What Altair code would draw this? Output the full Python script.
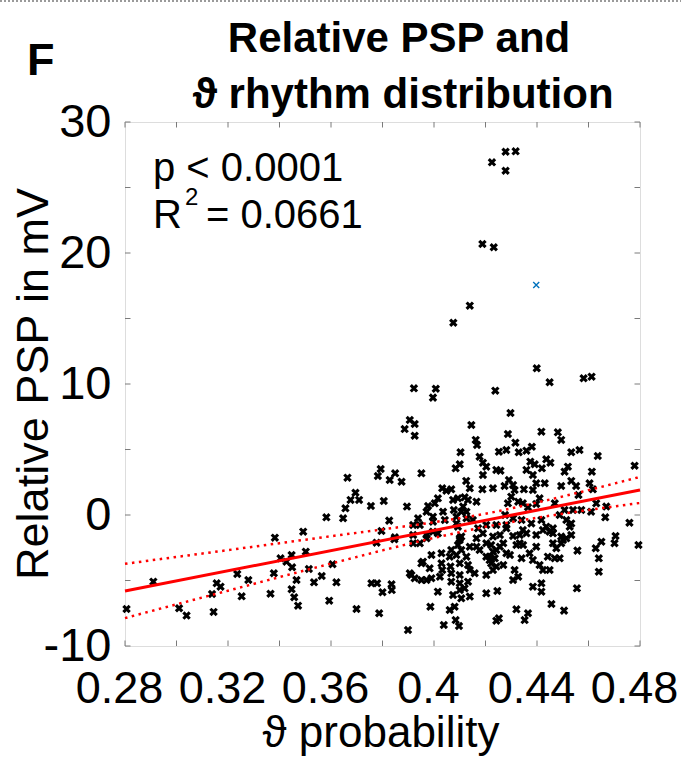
import altair as alt
import pandas as pd

# ---------------- data ----------------
pt_x = [
    0.4278, 0.4317, 0.4225, 0.4278, 0.4188, 0.4232, 0.4139, 0.4075, 0.4399, 0.4449,
    0.4581, 0.4612, 0.3922, 0.4007, 0.3996, 0.4238, 0.4297, 0.3906,
    0.3793, 0.3782, 0.3849, 0.3828, 0.3664, 0.3695, 0.3676, 0.3709, 0.3656, 0.3755,
    0.3805, 0.3582, 0.3647, 0.3826, 0.3492, 0.3382,
    0.2806, 0.2910, 0.3010, 0.3039, 0.3138, 0.3156, 0.3171, 0.3144, 0.3236, 0.3253,
    0.3279, 0.3365, 0.3378, 0.3404, 0.3447, 0.3449, 0.3427, 0.3502, 0.3514, 0.3466,
    0.3447, 0.3457, 0.3472, 0.3534, 0.3564, 0.3606, 0.3621, 0.3593, 0.3699, 0.3757,
    0.3779, 0.3800, 0.3787, 0.3835, 0.3836, 0.3777, 0.3846,
    0.3886, 0.3925, 0.3925, 0.4145, 0.4287, 0.4316, 0.4417, 0.4481, 0.4494, 0.4162,
    0.4167, 0.4103, 0.4252, 0.4281, 0.4329, 0.4359, 0.4380, 0.4533, 0.4565, 0.4636,
    0.4177, 0.4190, 0.4203, 0.4100, 0.4084, 0.4242, 0.4258, 0.4190, 0.4359, 0.4374,
    0.4391, 0.4419, 0.4436, 0.4452, 0.4384, 0.4507, 0.4520, 0.4613, 0.4779, 0.3951,
    0.3874, 0.4125, 0.4139, 0.4188, 0.4229, 0.4274, 0.4291, 0.4307, 0.4313, 0.4349,
    0.4384, 0.4397, 0.4494, 0.4533, 0.4552, 0.4561, 0.4604, 0.4617, 0.4032, 0.4048,
    0.4067, 0.4015, 0.4003, 0.4074, 0.4093, 0.4119, 0.4132, 0.4165, 0.4113, 0.4126,
    0.3977, 0.3971, 0.4035, 0.4077, 0.4287, 0.4345, 0.4365, 0.4410, 0.4397, 0.3895,
    0.3938, 0.3945, 0.3996, 0.4042, 0.4087, 0.4126, 0.4151, 0.4242, 0.4307, 0.4488,
    0.4514, 0.4527, 0.4572, 0.4610, 0.4630, 0.4669, 0.4665, 0.4759, 0.4705, 0.3796,
    0.3848, 0.3971, 0.4106, 0.4190, 0.4229, 0.4281, 0.4307, 0.4345, 0.4397, 0.4449,
    0.4494, 0.4533,
    0.3996, 0.4087, 0.4171, 0.3919, 0.3996, 0.4015, 0.4100, 0.4165, 0.4256, 0.4333,
    0.4359, 0.4423, 0.4462, 0.4501, 0.4533, 0.4701, 0.4650, 0.4628, 0.4794, 0.4557,
    0.4640, 0.4640, 0.4555, 0.3912, 0.3925, 0.3951, 0.3971, 0.3990, 0.3957, 0.3983,
    0.3990, 0.4029, 0.4029, 0.4032, 0.4064, 0.4067, 0.4067, 0.4100, 0.4087, 0.4106,
    0.4132, 0.4139, 0.4158, 0.4132, 0.4119, 0.4100, 0.4106, 0.4139, 0.4074, 0.4015,
    0.3986, 0.4061, 0.4080, 0.4038, 0.4084, 0.4097, 0.3899, 0.4203, 0.4246, 0.4203,
    0.4222, 0.4216, 0.4236, 0.4229, 0.4222, 0.4256, 0.4242, 0.4269, 0.4295, 0.4313,
    0.4307, 0.4327, 0.4340, 0.4320, 0.4346, 0.4371, 0.4384, 0.4397, 0.4410, 0.4423,
    0.4442, 0.4449, 0.4462, 0.4469, 0.4488, 0.4475, 0.4494, 0.4514, 0.4384, 0.4417,
    0.4417, 0.4456, 0.4505, 0.4320, 0.4365, 0.4352, 0.4242, 0.4252,
    0.3919, 0.3971, 0.3919, 0.3945, 0.3951, 0.4067, 0.4061, 0.4093, 0.4100, 0.4139,
    0.4126, 0.4100, 0.4165, 0.4177, 0.4203, 0.4242, 0.4269, 0.4216, 0.4229, 0.4100,
    0.4023, 0.3906, 0.4106, 0.4093, 0.4203, 0.4281, 0.4203, 0.4281,
    0.4430, 0.4300, 0.4327, 0.4469, 0.4507, 0.4540, 0.4276, 0.4340, 0.4378, 0.4417,
    0.4436, 0.4462, 0.4333,
]
pt_y = [
    27.73, 27.76, 26.92, 26.28, 20.69, 20.44, 15.98, 14.68, 11.20, 10.13,
    10.44, 10.56, 9.67, 9.64, 8.96, 9.49, 7.79, 7.25,
    3.51, 2.98, 3.18, 2.67, 2.85, 1.70, 1.15, 1.15, 0.51, 0.69,
    1.07, -0.18, -0.25, -0.43, -1.27, -1.73,
    -7.18, -5.09, -7.12, -7.68, -6.03, -5.21, -5.47, -7.40, -4.50, -6.21,
    -4.96, -6.01, -4.45, -3.31, -3.05, -3.99, -3.56, -2.80, -4.12, -4.96,
    -5.67, -6.28, -6.92, -5.14, -4.66, -3.76, -5.14, -6.54, -7.18, -5.21,
    -5.21, -5.90, -7.50, -5.29, -5.73, -2.11, -1.86,
    6.56, 6.95, 6.05, 6.87, 6.18, 5.52, 6.36, 6.31, 5.73, 5.73,
    5.34, 4.79, 4.83, 4.96, 4.79, 4.91, 5.21, 4.79, 4.96, 4.50,
    4.45, 3.99, 3.69, 3.87, 3.56, 3.44, 3.38, 3.05, 3.44, 4.07,
    3.87, 3.56, 4.25, 3.99, 3.05, 3.31, 3.69, 3.31, 3.76, 3.18,
    2.54, 2.60, 2.04, 1.96, 2.04, 2.21, 2.67, 2.29, 1.91, 1.96,
    1.91, 2.42, 2.21, 2.60, 2.21, 1.53, 2.42, 1.96, 2.04, 1.86,
    1.96, 1.27, 0.89, 1.15, 1.27, 1.35, 1.15, 1.02, 0.64, 0.25,
    0.69, 0.25, 0.25, 0.38, 0.89, 0.89, 0.59, 1.27, 0.84, 0.64,
    -0.25, -0.76, -0.13, -0.38, -0.13, -0.25, -0.38, -0.76, -0.25, 0.00,
    -0.38, -0.89, 0.38, 0.25, 0.89, 0.64, -0.18, -0.59, -1.60, -1.22,
    -1.70, -1.53, -1.65, -1.40, -1.65, -1.02, -1.60, -1.15, -1.53, -1.27,
    -1.65, -1.53,
    -0.51, -0.64, -1.02, -1.53, -1.27, -1.40, -1.91, -1.78, -1.53, -1.53,
    -1.40, -1.15, -1.40, -1.91, -0.64, -2.16, -2.04, -2.54, -2.29, -2.72,
    -3.31, -4.33, -5.60, -4.58, -4.83, -4.96, -4.96, -4.83, -3.56, -4.07,
    -3.05, -2.92, -3.69, -4.20, -3.94, -4.45, -5.09, -4.58, -3.05, -2.67,
    -3.82, -4.20, -4.45, -5.09, -5.60, -5.73, -6.36, -6.23, -6.11, -5.85,
    -7.00, -7.25, -7.00, -8.40, -8.02, -8.47, -8.78, -5.98, -5.80, -4.58,
    -3.69, -3.18, -3.31, -2.80, -2.29, -2.42, -3.94, -3.82, -3.05, -4.20,
    -4.96, -4.71, -3.31, -2.29, -2.29, -2.92, -3.44, -2.42, -3.82, -4.20,
    -3.18, -4.20, -2.16, -3.31, -3.31, -2.54, -2.16, -1.78, -5.47, -5.21,
    -5.85, -6.79, -7.30, -7.20, -7.50, -8.02, -8.07, -7.89,
    -0.76, -1.78, -2.16, -2.16, -3.69, -2.67, -3.18, -2.29, -1.78, -2.42,
    -3.18, -3.69, -2.42, -2.67, -2.16, -2.67, -2.16, -3.44, -4.20, -5.21,
    -4.71, -4.45, 0.25, -0.89, -0.76, -0.76, -3.18, -2.92,
    2.42, 1.40, 1.02, 0.89, 0.38, 0.38, 0.00, -0.38, -0.64, -0.38,
    -0.89, -1.02, -2.16,
]
blue_x = [0.4397]
blue_y = [17.56]

fit_x = [0.28, 0.48]
fit_y = [-5.80, 1.91]
ci_x = [0.28, 0.30, 0.32, 0.34, 0.36, 0.38, 0.40, 0.42, 0.44, 0.46, 0.48]
ci_up = [-3.73, -3.20, -2.68, -2.15, -1.62, -1.10, -0.55, 0.10, 0.95, 1.90, 2.91]
ci_lo = [-7.87, -6.82, -5.78, -4.74, -3.71, -2.70, -1.75, -0.90, -0.21, 0.38, 0.92]

x_tick_values = [0.28, 0.30, 0.32, 0.34, 0.36, 0.38, 0.40, 0.42, 0.44, 0.46, 0.48]
x_label_values = [0.28, 0.32, 0.36, 0.4, 0.44, 0.48]
y_tick_values = [-10, -5, 0, 5, 10, 15, 20, 25, 30]
y_label_values = [-10, 0, 10, 20, 30]

title_1 = "Relative PSP and"
title_2 = "\u03d1 rhythm distribution"
panel_letter = "F"
x_title = "\u03d1 probability"
y_title = "Relative PSP in mV"
p_text = "p < 0.0001"
r_text = "R"
r_sup = "2"
r_val = "= 0.0661"

# ---------------- layout ----------------
W, H = 515, 524
FONT = "Liberation Sans, Arial, Helvetica, DejaVu Sans, sans-serif"
FRAME = "#7a7a7a"
TL = 5.5

xscale = alt.Scale(domain=[0.28, 0.48], nice=False, zero=False)
yscale = alt.Scale(domain=[-10, 30], nice=False, zero=False)
xaxis = alt.Axis(values=x_label_values, labelExpr="toString(datum.value)", ticks=False,
                 domain=False, grid=False, title=None, labelFontSize=45, labelFont=FONT,
                 labelColor="black", labelPadding=20, labelFlush=False, labelOffset=-6)
yaxis = alt.Axis(values=y_label_values, labelExpr="toString(datum.value)", ticks=False,
                 domain=False, grid=False, title=None, labelFontSize=47, labelFont=FONT,
                 labelColor="black", labelPadding=14)


def X(field="x"):
    return alt.X(f"{field}:Q", scale=xscale, axis=xaxis)


def Y(field="y"):
    return alt.Y(f"{field}:Q", scale=yscale, axis=yaxis)


pts = pd.DataFrame({"x": pt_x, "y": pt_y})
blue = pd.DataFrame({"x": blue_x, "y": blue_y})
fit = pd.DataFrame({"x": fit_x, "y": fit_y})
ci_u = pd.DataFrame({"x": ci_x, "y": ci_up})
ci_l = pd.DataFrame({"x": ci_x, "y": ci_lo})
xt = pd.DataFrame({"x": x_tick_values})
yt = pd.DataFrame({"y": y_tick_values})

XSHAPE = "M-1,-1L1,1M1,-1L-1,1"

scatter = alt.Chart(pts).mark_point(shape=XSHAPE, filled=False, color="black",
                                    strokeWidth=3.1, size=40, opacity=1).encode(x=X(), y=Y())
blue_pt = alt.Chart(blue).mark_point(shape=XSHAPE, filled=False, color="#0072BD",
                                     strokeWidth=1.4, size=36, opacity=1).encode(x=X(), y=Y())
fit_line = alt.Chart(fit).mark_line(color="#ff0000", strokeWidth=3).encode(x=X(), y=Y())
up_line = alt.Chart(ci_u).mark_line(color="#ff0000", strokeWidth=2.5, strokeDash=[2.5, 4.5],
                                    interpolate="monotone").encode(x=X(), y=Y())
lo_line = alt.Chart(ci_l).mark_line(color="#ff0000", strokeWidth=2.5, strokeDash=[2.5, 4.5],
                                    interpolate="monotone").encode(x=X(), y=Y())

tick_b = alt.Chart(xt).mark_rule(color=FRAME, strokeWidth=1).encode(
    x=X(), y=alt.value(H), y2=alt.value(H - TL))
tick_t = alt.Chart(xt).mark_rule(color=FRAME, strokeWidth=1).encode(
    x=X(), y=alt.value(0), y2=alt.value(TL))
tick_l = alt.Chart(yt).mark_rule(color=FRAME, strokeWidth=1).encode(
    y=Y(), x=alt.value(0), x2=alt.value(TL))
tick_r = alt.Chart(yt).mark_rule(color=FRAME, strokeWidth=1).encode(
    y=Y(), x=alt.value(W), x2=alt.value(W - TL))


def label(txt, x, y, size, weight="normal", align="left", angle=0, color="black"):
    df = pd.DataFrame({"t": [txt]})
    kw = dict(font=FONT, fontSize=size, fontWeight=weight, align=align,
              baseline="alphabetic", color=color)
    if angle:
        kw["angle"] = angle
    return alt.Chart(df).mark_text(**kw).encode(text="t:N", x=alt.value(x), y=alt.value(y))


texts = [
    label(panel_letter, -98, -47, 45, "bold"),
    label(title_1, 274, -70, 42, "bold", "center"),
    label(title_2, 278, -14, 42, "bold", "center"),
    label(y_title, -77, H / 2, 45, "normal", "center", 270),
    label(x_title, 256, 625, 44, "normal", "center"),
    label(p_text, 28, 59, 40),
    label(r_text, 28, 106, 40),
    label(r_sup, 60, 83, 24),
    label(r_val, 81, 106, 40),
]

top_border = alt.Chart(pd.DataFrame({"t": [0]})).mark_rule(
    color="#9a9a9a", strokeWidth=2, strokeDash=[2, 2]).encode(
    x=alt.value(-125), x2=alt.value(W + 41), y=alt.value(-121))

chart = alt.layer(
    scatter, blue_pt, up_line, lo_line, fit_line, tick_b, tick_t, tick_l, tick_r,
    *texts, top_border
).properties(
    width=W, height=H,
    padding={"left": 125, "top": 122, "right": 41, "bottom": 112},
    autosize=alt.AutoSizeParams(type="none"),
).configure_view(stroke=FRAME, strokeWidth=1.3).configure(background="white")

chart.save("out.html", embed_options={"renderer": "svg", "actions": False})
